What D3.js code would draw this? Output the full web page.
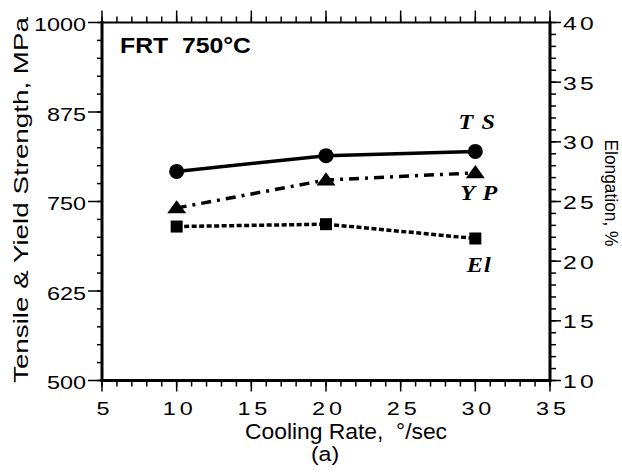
<!DOCTYPE html>
<html>
<head>
<meta charset="utf-8">
<script src="https://cdn.jsdelivr.net/npm/d3@7/dist/d3.min.js"></script>
<style>
  body { margin: 0; background: #fff; }
  text { font-family: "Liberation Sans", Arial, Helvetica, sans-serif; fill: #000; white-space: pre; }
</style>
</head>
<body>
<script>

  // data
  const coolingRate = [10, 20, 30]
  const tensileStrength = [792, 814, 820]
  const yieldPoint = [741, 780, 790]
  const elongation = [22.9, 23.1, 21.9]

  const xTicks = [5, 10, 15, 20, 25, 30, 35]
  const yLeftTicks = [500, 625, 750, 875, 1000]
  const yRightTicks = [10, 15, 20, 25, 30, 35, 40]

  const margin = {left: 102, top: 22.5, right: 72, bottom: 95.5}
  const W = 622, H = 476
  const width = W - margin.left - margin.right,
        height = H - margin.top - margin.bottom

  const xScale = d3.scaleLinear().domain([5, 35]).range([0, width])
  const yScale = d3.scaleLinear().domain([500, 1000]).range([height, 0])
  const yScale2 = d3.scaleLinear().domain([10, 40]).range([height, 0])

  // the original lettering is a wide face, so stretch text sideways
  const stretch = 1.3

  const svg = d3.select("body").append("svg")
      .attr("width", W)
      .attr("height", H)

  const g = svg.append("g")
      .attr("transform", `translate(${margin.left}, ${margin.top})`)

  function ticks(sel, scale, step, orient, len) {
    const [a, b] = scale.domain()
    d3.range(a, b + step / 2, step).forEach(v => {
      const p = scale(v)
      const line = sel.append("line").attr("stroke", "#000").attr("stroke-width", 1.5)
      if (orient === "bottom") line.attr("x1", p).attr("x2", p).attr("y1", height).attr("y2", height + len)
      if (orient === "top") line.attr("x1", p).attr("x2", p).attr("y1", 0).attr("y2", -len)
      if (orient === "left") line.attr("y1", p).attr("y2", p).attr("x1", 0).attr("x2", -len)
      if (orient === "right") line.attr("y1", p).attr("y2", p).attr("x1", width).attr("x2", width + len)
    })
  }

  const axes = g.append("g")
  ticks(axes, xScale, 1, "bottom", 6)
  ticks(axes, xScale, 1, "top", 6)
  ticks(axes, yScale, 25, "left", 5)
  ticks(axes, yScale2, 1, "right", 6)
  ticks(axes, xScale, 5, "bottom", 11)
  ticks(axes, xScale, 5, "top", 12)
  ticks(axes, yScale, 125, "left", 14)
  ticks(axes, yScale2, 5, "right", 11)

  // frame
  const frame = [[0, 0, width, 0, 2], [0, height, width, height, 3],
                 [0, 0, 0, height, 3], [width, 0, width, height, 3]]
  axes.selectAll(".frame").data(frame).enter().append("line")
      .attr("x1", d => d[0]).attr("y1", d => d[1])
      .attr("x2", d => d[2]).attr("y2", d => d[3])
      .attr("stroke", "#000").attr("stroke-width", d => d[4])
      .attr("stroke-linecap", "square")

  // tick labels
  g.selectAll(".xlab").data(xTicks).enter().append("text")
      .attr("transform", d => `translate(${xScale(d) + 3}, ${height + 34.5}) scale(${stretch},1)`)
      .style("text-anchor", "middle")
      .style("font-size", "18px")
      .style("letter-spacing", "3px")
      .text(d => d)

  g.selectAll(".ylab").data(yLeftTicks).enter().append("text")
      .attr("transform", d => `translate(-16, ${yScale(d) + 8.5}) scale(${stretch},1)`)
      .style("text-anchor", "end")
      .style("font-size", "18px")
      .text(d => d)

  g.selectAll(".y2lab").data(yRightTicks).enter().append("text")
      .attr("transform", d => `translate(${width + 13}, ${yScale2(d) + 7.5}) scale(${stretch},1)`)
      .style("text-anchor", "start")
      .style("font-size", "19px")
      .style("letter-spacing", "2.5px")
      .text(d => d)

  // axis titles
  svg.append("text")
      .attr("x", 346)
      .attr("y", 439)
      .attr("textLength", 202)
      .attr("lengthAdjust", "spacingAndGlyphs")
      .style("text-anchor", "middle")
      .style("font-size", "22px")
      .text("Cooling Rate,  °/sec")
  svg.append("text")
      .attr("transform", `translate(325, 461) scale(1.1,1)`)
      .style("text-anchor", "middle")
      .style("font-size", "21px")
      .text("(a)")
  svg.append("text")
      .attr("transform", `translate(28, 200) rotate(-90)`)
      .attr("textLength", 366)
      .attr("lengthAdjust", "spacingAndGlyphs")
      .style("text-anchor", "middle")
      .style("font-size", "20px")
      .text("Tensile & Yield Strength, MPa")
  svg.append("text")
      .attr("transform", `translate(605, 193) rotate(90)`)
      .attr("textLength", 107)
      .attr("lengthAdjust", "spacingAndGlyphs")
      .style("text-anchor", "middle")
      .style("font-size", "17.5px")
      .text("Elongation, %")

  svg.append("text")
      .attr("x", 120)
      .attr("y", 53)
      .attr("textLength", 131)
      .attr("lengthAdjust", "spacingAndGlyphs")
      .style("font-size", "22px")
      .style("font-weight", "bold")
      .text("FRT  750°C")

  // series
  const pts = (ys, sc) => coolingRate.map((c, i) => [xScale(c), sc(ys[i])])
  const line = d3.line()

  g.append("path").attr("d", line(pts(tensileStrength, yScale)))
      .attr("fill", "none").attr("stroke", "#000").attr("stroke-width", 3.5)
  g.append("path").attr("d", line(pts(yieldPoint, yScale)))
      .attr("fill", "none").attr("stroke", "#000").attr("stroke-width", 3.5)
      .attr("stroke-dasharray", "10,6,3,6")
  g.append("path").attr("d", line(pts(elongation, yScale2)))
      .attr("fill", "none").attr("stroke", "#000").attr("stroke-width", 3.5)
      .attr("stroke-dasharray", "5,2.5")

  g.selectAll(".ts").data(pts(tensileStrength, yScale)).enter().append("circle")
      .attr("cx", d => d[0]).attr("cy", d => d[1]).attr("r", 7.5).attr("fill", "#000")
  g.selectAll(".yp").data(pts(yieldPoint, yScale)).enter().append("path")
      .attr("d", d3.symbol(d3.symbolTriangle, 100))
      .attr("transform", d => `translate(${d[0]}, ${d[1] + 1}) scale(1.25,1)`)
      .attr("fill", "#000")
  g.selectAll(".el").data(pts(elongation, yScale2)).enter().append("rect")
      .attr("x", d => d[0] - 6).attr("y", d => d[1] - 6)
      .attr("width", 12).attr("height", 12).attr("fill", "#000")

  // series labels
  const seriesLabels = [
    {t: "T S", v: tensileStrength[2], sc: yScale, dx: 2, dy: -22},
    {t: "Y P", v: yieldPoint[2], sc: yScale, dx: 4, dy: 27},
    {t: "El", v: elongation[2], sc: yScale2, dx: 4, dy: 34}
  ]
  g.selectAll(".slab").data(seriesLabels).enter().append("text")
      .attr("transform", d => `translate(${xScale(30) + d.dx}, ${d.sc(d.v) + d.dy}) scale(1.15,1)`)
      .style("text-anchor", "middle")
      .style("font-family", "'Liberation Serif', 'Times New Roman', serif")
      .style("font-style", "italic")
      .style("font-weight", "bold")
      .style("font-size", "21px")
      .style("letter-spacing", "1px")
      .text(d => d.t)

</script>
</body>
</html>
